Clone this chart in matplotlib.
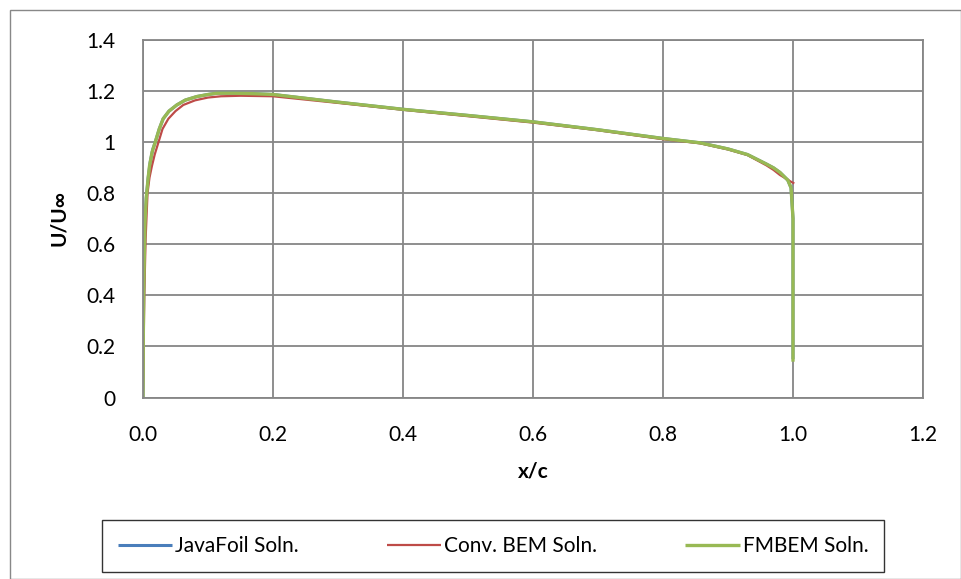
import matplotlib
matplotlib.use("Agg")
import matplotlib.pyplot as plt
from matplotlib.patches import Rectangle

plt.rcParams['font.family'] = ['Lato', 'DejaVu Sans']

# JavaFoil solution (mostly hidden beneath the FMBEM curve)
x_java = [0.0, 0.0005, 0.001, 0.002, 0.003, 0.005, 0.008, 0.011, 0.015, 0.019, 0.025, 0.031,
          0.04, 0.052, 0.065, 0.083, 0.1, 0.114, 0.14, 0.17, 0.2, 0.3, 0.4, 0.5, 0.6, 0.7,
          0.8, 0.857, 0.9, 0.93, 0.959, 0.97, 0.98, 0.992, 0.997, 1.0, 1.0, 1.0]
u_java = [0.0, 0.25, 0.4, 0.55, 0.68, 0.78, 0.86, 0.92, 0.97, 1.0, 1.05, 1.09,
          1.12, 1.144, 1.163, 1.177, 1.185, 1.19, 1.19, 1.188, 1.185, 1.155, 1.127, 1.103, 1.078, 1.047,
          1.013, 0.996, 0.972, 0.95, 0.913, 0.898, 0.88, 0.85, 0.82, 0.7, 0.4, 0.15]

# Conventional BEM solution
x_conv = [0.0, 0.001, 0.002, 0.004, 0.007, 0.01, 0.0137, 0.018, 0.024, 0.03, 0.039, 0.05,
          0.062, 0.08, 0.1, 0.12, 0.15, 0.2, 0.3, 0.4, 0.5, 0.6, 0.7, 0.8, 0.857, 0.9,
          0.93, 0.959, 0.97, 0.98, 0.99, 0.996, 1.002]
u_conv = [0.0, 0.2, 0.4, 0.62, 0.8, 0.86, 0.905, 0.95, 1.0, 1.05, 1.09, 1.12,
          1.144, 1.162, 1.173, 1.178, 1.18, 1.178, 1.152, 1.125, 1.1, 1.075, 1.045, 1.01, 0.994, 0.97,
          0.948, 0.908, 0.89, 0.87, 0.855, 0.845, 0.837]

# FMBEM solution
x_fm = [0.0, 0.0005, 0.001, 0.002, 0.003, 0.005, 0.008, 0.010, 0.014, 0.019, 0.025, 0.031,
        0.04, 0.052, 0.065, 0.083, 0.1, 0.114, 0.14, 0.17, 0.2, 0.3, 0.4, 0.5, 0.6, 0.7,
        0.8, 0.857, 0.9, 0.93, 0.959, 0.97, 0.98, 0.992, 0.997, 1.0, 1.0, 1.0]
u_fm = [0.0, 0.25, 0.4, 0.55, 0.68, 0.78, 0.86, 0.905, 0.96, 1.0, 1.05, 1.09,
        1.12, 1.144, 1.163, 1.177, 1.185, 1.19, 1.19, 1.188, 1.185, 1.155, 1.127, 1.103, 1.078, 1.047,
        1.013, 0.996, 0.972, 0.95, 0.913, 0.898, 0.88, 0.85, 0.82, 0.7, 0.4, 0.14]

x_ticks = [0.0, 0.2, 0.4, 0.6, 0.8, 1.0, 1.2]
x_tick_labels = ["0.0", "0.2", "0.4", "0.6", "0.8", "1.0", "1.2"]
y_ticks = [0, 0.2, 0.4, 0.6, 0.8, 1.0, 1.2, 1.4]
y_tick_labels = ["0", "0.2", "0.4", "0.6", "0.8", "1", "1.2", "1.4"]

W, H = 962, 579
fig = plt.figure(figsize=(W / 100, H / 100), dpi=100)
ax = fig.add_axes([143 / W, 1 - 397.5 / H, 780 / W, 358 / H])

grid_c = "#868686"
ax.plot(x_java, u_java, color="#4A7EBB", lw=2.2, label="JavaFoil Soln.", solid_capstyle="butt")
ax.plot(x_conv, u_conv, color="#BE4B48", lw=1.6, label="Conv. BEM Soln.", solid_capstyle="butt")
ax.plot(x_fm, u_fm, color="#98B954", lw=2.4, label="FMBEM Soln.", solid_capstyle="butt")

ax.set_xlim(0, 1.2)
ax.set_ylim(0, 1.4)
ax.set_xticks(x_ticks)
ax.set_xticklabels(x_tick_labels)
ax.set_yticks(y_ticks)
ax.set_yticklabels(y_tick_labels)
ax.tick_params(length=0, labelsize=15, colors="black")
ax.tick_params(axis="x", pad=20)
ax.tick_params(axis="y", pad=20)
ax.grid(True, color=grid_c, lw=1.3)
ax.set_axisbelow(True)
for s in ax.spines.values():
    s.set_color(grid_c)
    s.set_linewidth(1.3)

ax.set_xlabel("x/c", fontsize=15, fontweight="bold", labelpad=12)
ax.set_ylabel("U/U∞", fontsize=15, fontweight="bold", labelpad=12)

# legend box: roughly x 102..884 px, y 522..570 px
leg_left, leg_right = 102, 884
target_w = leg_right - leg_left
colsp = 2.0
renderer = fig.canvas.get_renderer()
leg = None
for _ in range(4):
    if leg is not None:
        leg.remove()
    leg = fig.legend(loc="center", bbox_to_anchor=((leg_left + leg_right) / 2 / W, 1 - 546 / H),
                     ncol=3, fontsize=15, frameon=True, fancybox=False, edgecolor="black",
                     handlelength=2.6, handletextpad=0.15, columnspacing=colsp, borderpad=0.75)
    w = leg.get_window_extent(renderer).width
    colsp += (target_w - w) / 2 / (15 * 100 / 72)
leg.get_frame().set_linewidth(1.0)

fig.patches.append(Rectangle((9.5 / W, 0.5 / H), (961.5 - 9.5) / W, (569.5 - 0.5) / H,
                             transform=fig.transFigure, fill=False, edgecolor="#888888", lw=1.0))

fig.savefig("out.png", dpi=100)
